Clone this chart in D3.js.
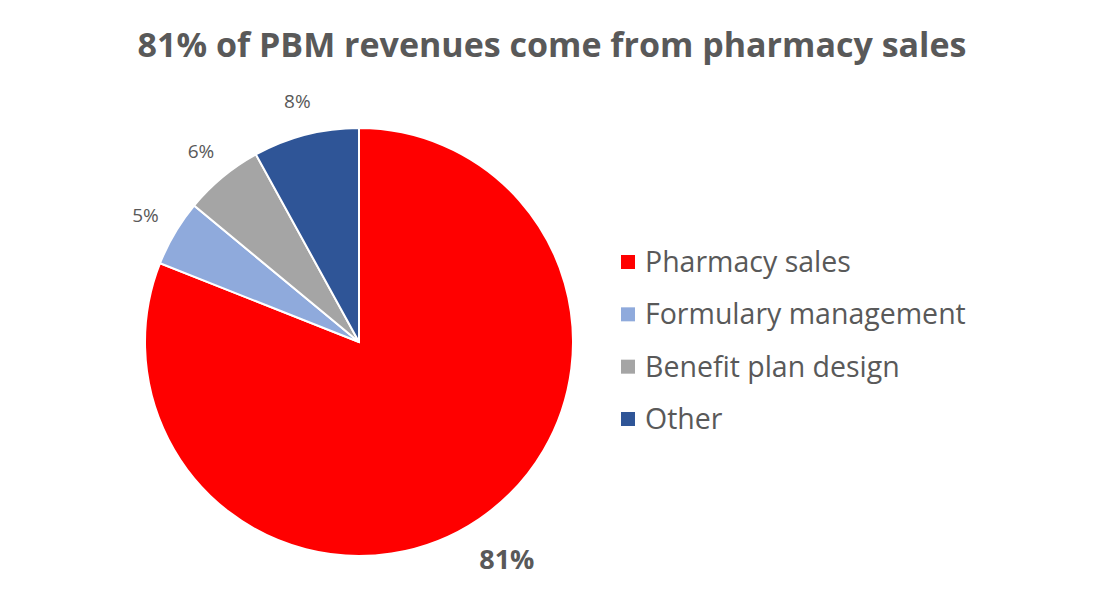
<!DOCTYPE html>
<html><head><meta charset="utf-8">
<script src="https://cdn.jsdelivr.net/npm/d3@7"></script>
<style>body{margin:0;background:#fff}</style></head>
<body><svg id="c" width="1104" height="612"></svg>
<script>
const categories = ["Pharmacy sales","Formulary management","Benefit plan design","Other"];
const values = [81,5,6,8];
const colors = ["#FF0000","#8FAADC","#A5A5A5","#2F5597"];
const labelText = ["81%","5%","6%","8%"];

const svg = d3.select("#c");
const font = "'Open Sans', 'Liberation Sans', sans-serif";
svg.append("text").attr("x",552).attr("y",57).attr("text-anchor","middle")
  .attr("font-family",font).attr("font-weight","bold").attr("font-size",34).attr("fill","#595959")
  .text("81% of PBM revenues come from pharmacy sales");

const cx=359, cy=342, R=214;
const pie = d3.pie().sort(null).value(d=>d)(values);
const arc = d3.arc().innerRadius(0).outerRadius(R);
const g = svg.append("g").attr("transform",`translate(${cx},${cy})`);
g.selectAll("path").data(pie).join("path").attr("d",arc)
  .attr("fill",(d,i)=>colors[i]).attr("stroke","#fff").attr("stroke-width",2);
g.selectAll("text").data(pie).join("text")
  .attr("transform",(d,i)=>{const a=(d.startAngle+d.endAngle)/2, r=i===0?263:248;
     return `translate(${r*Math.sin(a)},${-r*Math.cos(a)})`;})
  .attr("text-anchor","middle").attr("dy","0.35em")
  .attr("font-family",font).attr("font-size",(d,i)=>i===0?27:19)
  .attr("font-weight",(d,i)=>i===0?"bold":"normal").attr("fill","#595959")
  .text((d,i)=>labelText[i]);

const y = d3.scalePoint().domain(categories).range([262,419]);
const lg = svg.append("g");
categories.forEach((c,i)=>{
  lg.append("rect").attr("x",621).attr("y",y(c)-7).attr("width",14).attr("height",14).attr("fill",colors[i]);
  lg.append("text").attr("x",645).attr("y",y(c)).attr("dy","0.35em")
    .attr("font-family",font).attr("font-size",28.5).attr("fill","#595959").text(c);
});
</script></body></html>
